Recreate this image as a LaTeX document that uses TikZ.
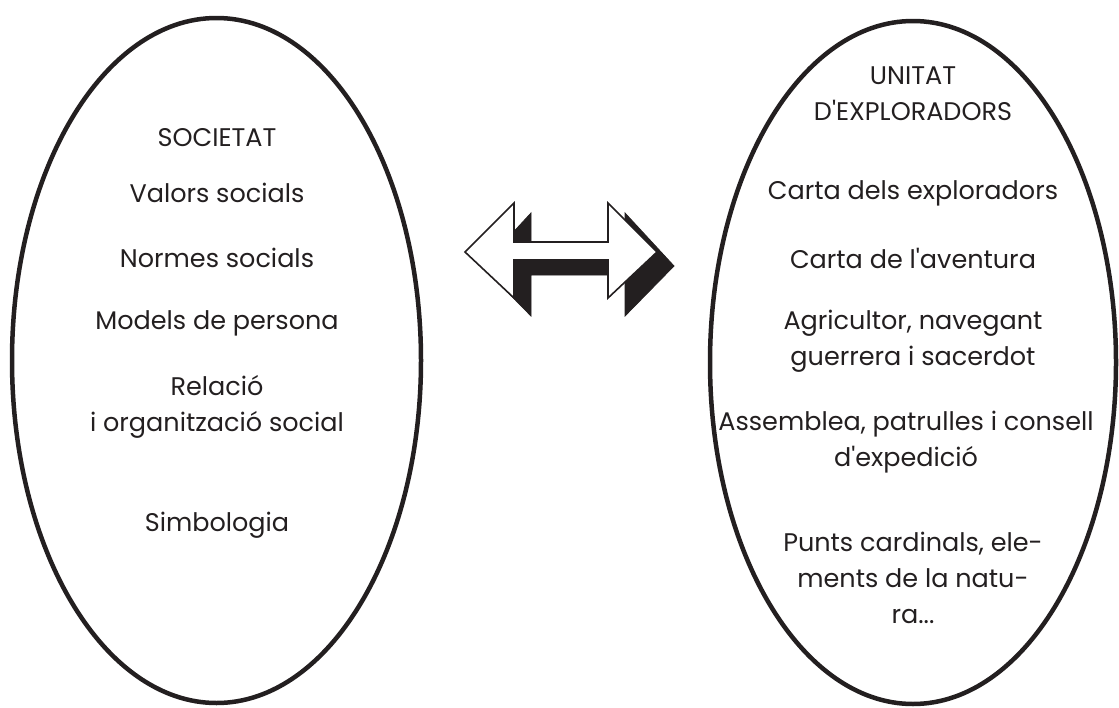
\documentclass[tikz,border=0pt]{standalone}
\usepackage{fontspec}
\setmainfont{Poppins}[Ligatures=TeXOff]
\usetikzlibrary{shapes.geometric}
\definecolor{ink}{HTML}{231F20}
\begin{document}
\begin{tikzpicture}[x=1pt,y=-1pt,
  oval/.style={draw=ink,line width=4.5pt,ellipse,inner sep=0pt},
  lbl/.style={text=ink,font=\fontsize{25.5}{36}\selectfont,align=center,inner sep=0pt},
  arrowshadow/.style={fill=ink,draw=ink,line width=0.8pt,line join=miter},
  arrowfront/.style={fill=white,draw=ink,line width=1.6pt,line join=miter}]
\useasboundingbox (0,0) rectangle (1119,707);
% ellipses
\node[oval,minimum width=409pt,minimum height=685pt] (soc) at (216.5,360.5) {};
\node[oval,minimum width=406pt,minimum height=683pt] (uni) at (913,362.5) {};
% left texts
\node[lbl] (s0) at (217,138) {SOCIETAT};
\node[lbl] (s1) at (217,193) {Valors socials};
\node[lbl] (s2) at (217,258) {Normes socials};
\node[lbl] (s3) at (217,323) {Models de persona};
\node[lbl] (s4) at (217,407) {Relació\\i organització social};
\node[lbl] (s5) at (217,525) {Simbologia};
% right texts
\node[lbl] (u0) at (913,94) {UNITAT\\D'EXPLORADORS};
\node[lbl] (u1) at (913,193) {Carta dels exploradors};
\node[lbl] (u2) at (913,258) {Carta de l'aventura};
\node[lbl] (u3) at (913,341) {Agricultor, navegant\\guerrera i sacerdot};
\node[lbl] (u4) at (906,442) {Assemblea, patrulles i consell\\d'expedició};
\node[lbl] (u5) at (913,578) {Punts cardinals, ele-\\ments de la natu-\\ra...};
% double arrow with shadow
\filldraw[arrowshadow] (482,266) -- (531,213) -- (531,255) -- (625,255) -- (625,213)
  -- (674,266) -- (625,316) -- (625,275) -- (531,275) -- (531,316) -- cycle;
\filldraw[arrowfront] (465,252) -- (514,203) -- (514,242) -- (608,242) -- (608,203)
  -- (657,252) -- (608,298) -- (608,260) -- (514,260) -- (514,298) -- cycle;
\end{tikzpicture}
\end{document}
